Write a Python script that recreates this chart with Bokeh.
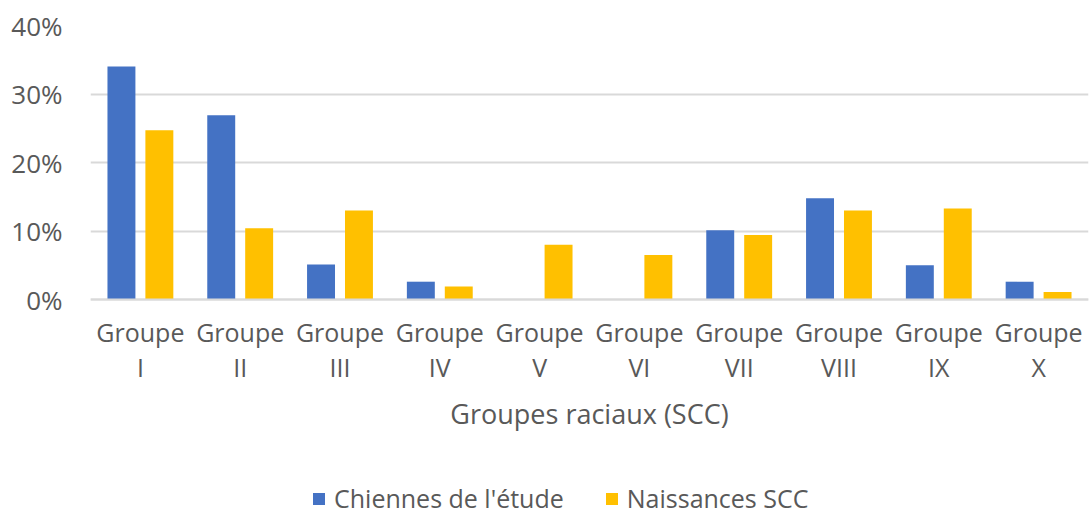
from bokeh.plotting import figure
from bokeh.models import (FactorRange, ColumnDataSource, NumeralTickFormatter, Legend,
                          LegendItem, FixedTicker, Range1d)
from bokeh.transform import dodge
from bokeh.embed import file_html
from bokeh.resources import INLINE

groups = ["Groupe\nI", "Groupe\nII", "Groupe\nIII", "Groupe\nIV", "Groupe\nV",
          "Groupe\nVI", "Groupe\nVII", "Groupe\nVIII", "Groupe\nIX", "Groupe\nX"]
chiennes = [0.340, 0.269, 0.051, 0.026, 0.0, 0.0, 0.101, 0.148, 0.050, 0.026]
naissances = [0.247, 0.104, 0.130, 0.019, 0.080, 0.065, 0.094, 0.130, 0.133, 0.011]
y_ticks = [0.0, 0.1, 0.2, 0.3, 0.4]
series_names = ["Chiennes de l'étude", "Naissances SCC"]
x_title = "Groupes raciaux (SCC)"

BLUE = "#4472C4"
YELLOW = "#FFC000"
GRAY = "#595959"
FONT = "Open Sans"

src = ColumnDataSource(dict(g=groups, a=chiennes, b=naissances))

# frame spans the whole area below the plot too, so the axis texts and the
# legend can live inside it; the value axis keeps 0..40% in the upper part
p = figure(x_range=FactorRange(*groups), y_range=Range1d(-0.3153, 0.40),
           frame_width=998, frame_height=490,
           output_backend="svg", toolbar_location=None,
           min_border_left=90, min_border_right=1, min_border_top=25,
           min_border_bottom=0)
p.outline_line_color = None

r1 = p.vbar(x=dodge("g", -0.19, range=p.x_range), top="a", width=0.28, source=src,
            fill_color=BLUE, line_color=None)
r2 = p.vbar(x=dodge("g", 0.19, range=p.x_range), top="b", width=0.28, source=src,
            fill_color=YELLOW, line_color=None)

# y axis
p.yaxis.ticker = FixedTicker(ticks=y_ticks)
p.yaxis.formatter = NumeralTickFormatter(format="0%")
p.yaxis.axis_line_color = None
p.yaxis.major_tick_line_color = None
p.yaxis.minor_tick_line_color = None
p.yaxis.major_label_text_font = FONT
p.yaxis.major_label_text_font_size = "26px"
p.yaxis.major_label_text_color = GRAY
p.yaxis.major_label_standoff = 22

# x axis, drawn at value 0
p.xaxis.fixed_location = 0
p.xaxis.axis_line_color = "#d9d9d9"
p.xaxis.axis_line_width = 2
p.xaxis.major_tick_line_color = None
p.xaxis.minor_tick_line_color = None
p.xaxis.major_tick_out = 0
p.xaxis.major_label_text_font = FONT
p.xaxis.major_label_text_font_size = "25px"
p.xaxis.major_label_text_color = GRAY
p.xaxis.major_label_text_line_height = 1.05
p.xaxis.major_label_standoff = 15
p.xaxis.axis_label = x_title
p.xaxis.axis_label_text_font = FONT
p.xaxis.axis_label_text_font_size = "27px"
p.xaxis.axis_label_text_font_style = "normal"
p.xaxis.axis_label_text_color = GRAY
p.xaxis.axis_label_standoff = 8

p.xgrid.grid_line_color = None
p.ygrid.ticker = FixedTicker(ticks=y_ticks)
p.ygrid.grid_line_color = "#d9d9d9"
p.ygrid.grid_line_width = 2

legend = Legend(items=[LegendItem(label=series_names[0], renderers=[r1]),
                       LegendItem(label=series_names[1], renderers=[r2])],
                orientation="horizontal", location=(221, 0),
                label_text_font=FONT, label_text_font_size="25px",
                label_text_color=GRAY, glyph_width=15, glyph_height=15,
                label_height=20, spacing=40, label_standoff=8, padding=0, margin=0,
                border_line_color=None, background_fill_alpha=0)
p.add_layout(legend, "center")

open("out.html", "w").write(file_html(p, INLINE))
